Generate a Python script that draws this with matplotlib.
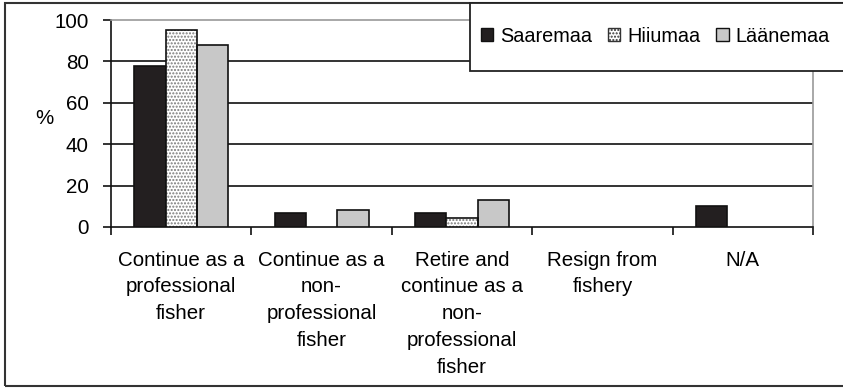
import matplotlib
matplotlib.use("Agg")
import matplotlib.pyplot as plt
from matplotlib.patches import Rectangle, Patch
import numpy as np

plt.rcParams['font.family'] = ['Liberation Sans', 'DejaVu Sans']
plt.rcParams['hatch.linewidth'] = 1.0

categories = [
    "Continue as a\nprofessional\nfisher",
    "Continue as a\nnon-\nprofessional\nfisher",
    "Retire and\ncontinue as a\nnon-\nprofessional\nfisher",
    "Resign from\nfishery",
    "N/A",
]
series_names = ["Saaremaa", "Hiiumaa", "Läänemaa"]
saaremaa = [78, 7, 7, 0, 10]
hiiumaa = [95, 0, 4.5, 0, 0]
laanemaa = [88, 8, 13, 0, 0]
y_ticks = [0, 20, 40, 60, 80, 100]

W, H = 843, 388
fig = plt.figure(figsize=(W / 100, H / 100), dpi=100)
ax = fig.add_axes([111 / W, 1 - 227 / H, (813 - 111) / W, (227 - 20) / H])

x = np.arange(len(categories))
bw = 0.223
fs = 14.8


def nonzero(vals, offset):
    v = np.asarray(vals, dtype=float)
    keep = v > 0
    return x[keep] + offset, v[keep]


xs, vs = nonzero(saaremaa, -bw)
ax.bar(xs, vs, bw, color='#231f20', edgecolor='#111111', linewidth=1.2, zorder=3)
xs, vs = nonzero(hiiumaa, 0)
# dotted fill drawn first, outline on top
ax.bar(xs, vs, bw, color='white', edgecolor='#7a7a7a', hatch='.....', linewidth=0, zorder=3)
ax.bar(xs, vs, bw, fill=False, edgecolor='#111111', linewidth=1.2, zorder=4)
xs, vs = nonzero(laanemaa, bw)
ax.bar(xs, vs, bw, color='#c8c8c8', edgecolor='#111111', linewidth=1.2, zorder=3)

ax.set_xlim(-0.5, len(categories) - 0.5)
ax.set_ylim(0, 100)
ax.set_yticks(y_ticks)
ax.set_yticklabels([str(v) for v in y_ticks], fontsize=fs)
for v in y_ticks[1:-1]:
    ax.axhline(v, color='#111111', linewidth=1.2, zorder=1)

ax.set_xticks(x)
ax.set_xticklabels(categories, fontsize=fs, linespacing=1.52, va='top')
ax.set_xticks(np.arange(-0.5, len(categories)), minor=True)
ax.tick_params(axis='x', which='major', length=0, pad=17)
ax.tick_params(axis='x', which='minor', length=6, width=1.2, color='#111111')
ax.tick_params(axis='y', length=6, width=1.2, color='#111111', pad=10)

for s in ['left', 'bottom']:
    ax.spines[s].set_color('#111111')
    ax.spines[s].set_linewidth(1.2)
for s in ['top', 'right']:
    ax.spines[s].set_color('#9a9a9a')
    ax.spines[s].set_linewidth(1.2)

fig.text(44 / W, 1 - 118 / H, '%', fontsize=fs, ha='center', va='center')

# outer frame around the whole chart
fig.patches.append(Rectangle((5 / W, 1 - 386 / H), (850 - 5) / W, (386 - 3) / H,
                             transform=fig.transFigure, fill=False,
                             edgecolor='#333333', linewidth=1.5, clip_on=False))

# legend box
fig.patches.append(Rectangle((470 / W, 1 - 71 / H), (850 - 470) / W, (71 - 3) / H,
                             transform=fig.transFigure, facecolor='white',
                             edgecolor='#222222', linewidth=1.3, clip_on=False, zorder=5))
handles = [
    Patch(facecolor='#231f20', edgecolor='#111111', linewidth=1.0),
    Patch(facecolor='white', edgecolor='#333333', hatch='.....', linewidth=1.0),
    Patch(facecolor='#c8c8c8', edgecolor='#111111', linewidth=1.0),
]
leg = fig.legend(handles, series_names, loc='center left', ncol=3,
                 bbox_to_anchor=(481 / W, 1 - 36 / H), frameon=False, fontsize=14.3,
                 handlelength=0.62, handleheight=0.62, handletextpad=0.35,
                 columnspacing=0.8, borderpad=0, borderaxespad=0)
leg.set_zorder(6)

fig.savefig('out.png', dpi=100)
